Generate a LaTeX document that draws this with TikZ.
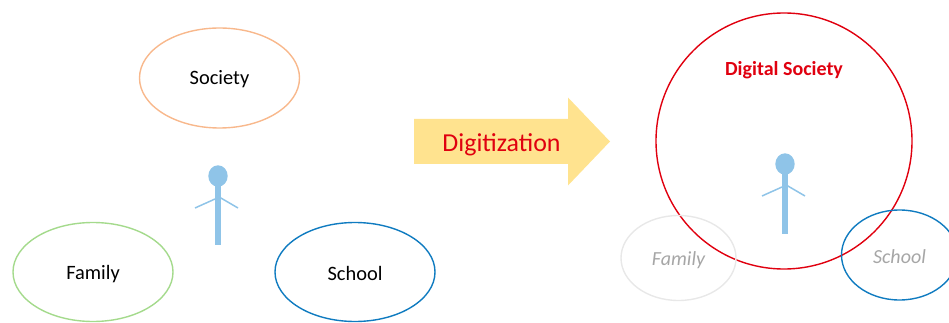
\documentclass[tikz,border=0pt]{standalone}
\usepackage{fontspec}
\setmainfont{Carlito}
\definecolor{orangeline}{HTML}{F8B88C}
\definecolor{greenline}{HTML}{A4DA8C}
\definecolor{blueline}{HTML}{0F7BC0}
\definecolor{personblue}{HTML}{8FC4E8}
\definecolor{arrowfill}{HTML}{FFE38F}
\definecolor{redline}{HTML}{E0000F}
\definecolor{fadeline}{HTML}{E8E8E8}
\definecolor{fadetext}{HTML}{A6A6A6}
\tikzset{
  x=1pt,y=-1pt,
  oval/.style={ellipse,draw,line width=1.4pt,inner sep=0pt,font=\fontsize{20.4}{24}\selectfont},
  fadedtext/.style={text=fadetext,font=\fontsize{20}{24}\selectfont\itshape},
  limb/.style={personblue,line width=1.5pt},
}
\usetikzlibrary{shapes.geometric}
\newcommand{\person}[3]{% #1 head x, #2 head y, #3 body bottom y
  \fill[personblue] (#1,#2) ellipse [x radius=9.7,y radius=10.7];
  \fill[personblue] (#1-3.3,#2+8) rectangle (#1+2.7,#3);
  \draw[limb] (#1-23,#2+32) -- (#1-3,#2+23);
  \draw[limb] (#1+2,#2+21.5) -- (#1+20,#2+32);
}
\begin{document}
\begin{tikzpicture}
\clip (0,0) rectangle (949,323);
\useasboundingbox (0,0) rectangle (949,323);
\node[oval,draw=orangeline,minimum width=160pt,minimum height=100pt] (society) at (219.5,78) {};
\node[font=\fontsize{20.4}{24}\selectfont] (societylabel) at (219.5,79) {Society};
\node[oval,draw=greenline,minimum width=160pt,minimum height=99pt] (family) at (93,272) {};
\node[font=\fontsize{20.4}{24}\selectfont] (familylabel) at (93,274) {Family};
\node[oval,draw=blueline,minimum width=160pt,minimum height=99pt] (school) at (355,272) {};
\node[font=\fontsize{20.4}{24}\selectfont] (schoollabel) at (355,273) {School};
\person{218}{176}{245}
\fill[arrowfill] (414,119) -- (568,119) -- (568,97.5) -- (610,141.5) -- (568,185.5) -- (568,164) -- (414,164) -- cycle;
\node[text=redline,font=\fontsize{25.9}{30}\selectfont] (digitization) at (501.5,145) {Digitization};
\node[circle,draw=redline,line width=1.4pt,minimum size=256pt,inner sep=0pt] (digital) at (784,141) {};
\node[text=redline,font=\fontsize{20}{24}\selectfont\bfseries] (digitallabel) at (784,70) {Digital Society};
\person{785}{164}{234}
\node[ellipse,draw=fadeline,line width=1.4pt,minimum width=115pt,minimum height=85pt,inner sep=0pt] (family2) at (678.5,258) {};
\node[fadedtext] (family2label) at (678.5,260) {Family};
\node[ellipse,draw=blueline,line width=1.4pt,minimum width=116pt,minimum height=90pt,inner sep=0pt] (school2) at (899.5,255) {};
\node[fadedtext] (school2label) at (899.5,256.5) {School};
\end{tikzpicture}
\end{document}
